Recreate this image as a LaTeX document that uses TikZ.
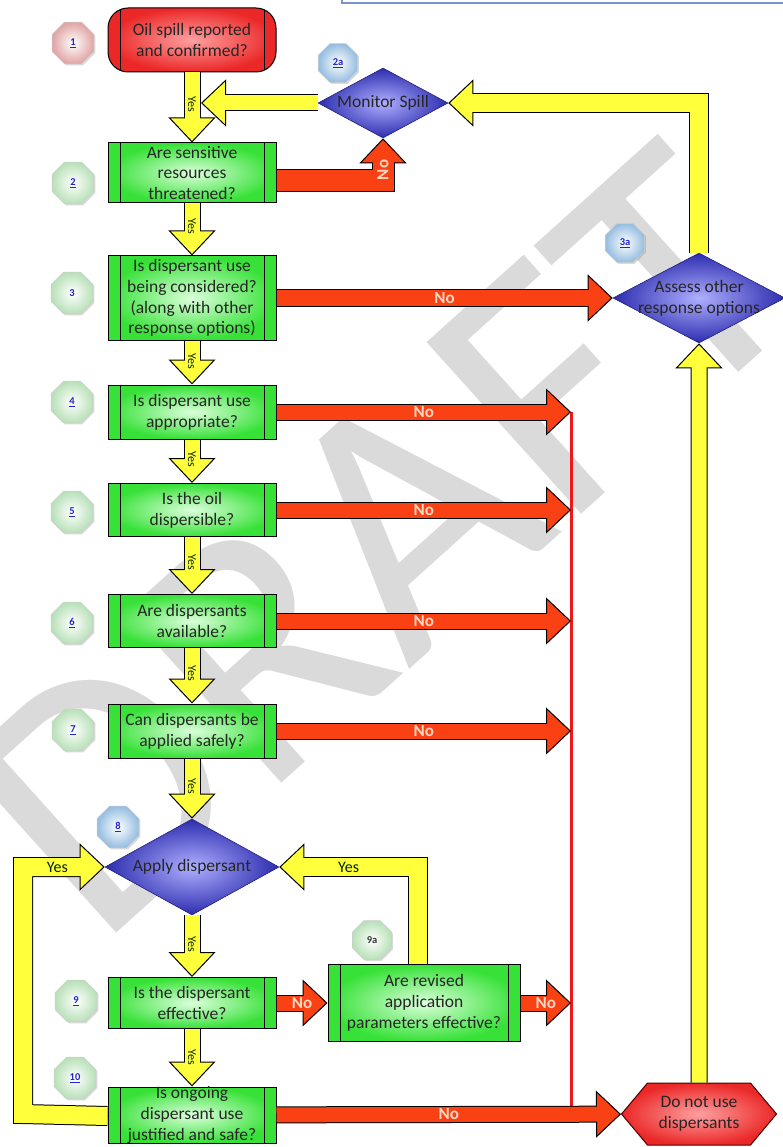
\documentclass[tikz,border=0pt]{standalone}
\usepackage{fontspec}
\setmainfont{Carlito}
\usetikzlibrary{arrows.meta, positioning, shapes.geometric, shapes.symbols, shadows}
\definecolor{qgreen}{RGB}{55,225,55}
\definecolor{qlight}{RGB}{220,255,220}
\definecolor{sred}{RGB}{235,40,40}
\definecolor{slight}{RGB}{255,160,160}
\definecolor{dblue}{RGB}{45,45,175}
\definecolor{dlight}{RGB}{175,175,255}
\definecolor{yfill}{RGB}{255,255,60}
\definecolor{rfill}{RGB}{250,65,20}
\definecolor{rline}{RGB}{240,25,25}
\definecolor{nolab}{RGB}{255,215,195}
\definecolor{numblue}{RGB}{35,35,210}
\definecolor{bdgreen}{RGB}{185,225,185}
\definecolor{bdblue}{RGB}{150,190,225}
\definecolor{bdpink}{RGB}{225,165,165}
\definecolor{wmgray}{RGB}{218,218,218}
\definecolor{frameblue}{RGB}{120,150,205}

\begin{document}
\begin{tikzpicture}[x=1pt, y=-1pt,
  boxtext/.style={font=\fontsize{17.5}{20.8}\selectfont, align=center, text=black!85},
  sidebars/.style={path picture={
      \fill[#1] (path picture bounding box.north west) rectangle ([xshift=12pt]path picture bounding box.south west);
      \fill[#1] ([xshift=-12pt]path picture bounding box.north east) rectangle (path picture bounding box.south east);
      \draw[line width=1pt] ([xshift=12pt]path picture bounding box.north west) -- ([xshift=12pt]path picture bounding box.south west);
      \draw[line width=1pt] ([xshift=-12pt]path picture bounding box.north east) -- ([xshift=-12pt]path picture bounding box.south east);}},
  qbox/.style={boxtext, rectangle, draw=black, line width=1pt, minimum width=168pt, inner sep=1pt,
               inner color=qlight, outer color=qgreen, sidebars=qgreen},
  startbox/.style={boxtext, rectangle, rounded corners=20pt, draw=black, line width=1pt, minimum width=168pt,
               inner sep=1pt, inner color=slight, outer color=sred, sidebars=sred},
  decision/.style={boxtext, diamond, inner sep=-40pt, draw=dblue!70!black, line width=0.6pt,
               inner color=dlight, outer color=dblue},
  stopbox/.style={boxtext, signal, signal to=east and west, signal pointer angle=100, inner sep=1pt,
               draw=black!70!red, line width=1pt, inner color=slight, outer color=sred},
  badge/.style={regular polygon, regular polygon sides=8, minimum size=45pt, inner sep=0pt,
               draw=black!20, line width=0.5pt, inner color=white, outer color=#1,
               font=\fontsize{10.5}{12}\selectfont\bfseries, text=numblue,
               drop shadow={shadow xshift=1.5pt, shadow yshift=-1.5pt, opacity=0.3}},
  fatarrow/.style n args={3}{draw=black, line width=1pt,
               -{Triangle[length=25pt, width=47pt, fill=#1]},
               preaction={draw=black, arrows=-, line width=#3, shorten >=20pt},
               postaction={draw=#1, arrows=-, line width=#2, shorten >=20pt}},
  yarrow/.style={fatarrow={yfill}{15pt}{17pt}},
  yloop/.style={fatarrow={yfill}{18pt}{20pt}},
  rarrow/.style={fatarrow={rfill}{15pt}{17pt}},
  rwide/.style={fatarrow={rfill}{21pt}{23pt}},
  ylab/.style={font=\fontsize{12}{13}\selectfont, text=black!75!green!60!black, rotate=-90, inner sep=0pt},
  yeslab/.style={font=\fontsize{16}{18}\selectfont, text=black!75!green!60!black, inner sep=0pt},
  nlab/.style={font=\fontsize{17}{18}\selectfont\bfseries, text=nolab, inner sep=0pt},
  redline/.style={draw=rline, line width=3pt},
  watermark/.style={font=\fontsize{360}{360}\selectfont, text=wmgray, rotate=42}]
  \useasboundingbox (0,0) rectangle (782,1147);

  % background: watermark and cut-off frame
  \node[watermark] (draft) at (380,540) {DRAFT};
  \draw[frameblue, line width=1.5pt, fill=white] (342,-20) rectangle (790,3);

  % main column
  \node[startbox, minimum height=64pt] (b1) at (192,40) {Oil spill reported\\and confirmed?};
  \node[qbox, minimum height=60pt] (b2) at (192,173) {Are sensitive\\resources\\threatened?};
  \node[qbox, minimum height=84pt] (b3) at (192,298) {Is dispersant use\\being considered?\\(along with other\\response options)};
  \node[qbox, minimum height=54pt] (b4) at (192,412) {Is dispersant use\\appropriate?};
  \node[qbox, minimum height=53pt] (b5) at (192,510) {Is the oil\\dispersible?};
  \node[qbox, minimum height=53pt] (b6) at (192,621) {Are dispersants\\available?};
  \node[qbox, minimum height=54pt] (b7) at (192,731) {Can dispersants be\\applied safely?};
  \node[decision, minimum width=174pt, minimum height=96pt] (apply) at (192,867) {Apply dispersant};
  \node[qbox, minimum height=51pt] (b9) at (192,1003) {Is the dispersant\\effective?};
  \node[qbox, minimum height=56pt, inner ysep=-3pt] (b10) at (192,1115) {Is ongoing\\dispersant use\\justified and safe?};

  % side nodes
  \node[decision, minimum width=130pt, minimum height=70pt] (mon) at (383,103) {Monitor Spill};
  \node[decision, minimum width=172pt, minimum height=90pt] (assess) at (699,298) {Assess other\\response options};
  \node[qbox, minimum width=192pt, minimum height=77pt] (b9a) at (424,1003) {Are revised\\application\\parameters effective?};
  \node[stopbox, minimum width=155pt, minimum height=62pt] (stop) at (699,1114) {Do not use\\dispersants};

  % step badges
  \node[badge=bdpink] (n1) at (73,43) {\underline{1}};
  \node[badge=bdgreen] (n2) at (73,183) {\underline{2}};
  \node[badge=bdblue, minimum size=42pt] (n2a) at (338,63) {\underline{2a}};
  \node[badge=bdgreen] (n3) at (72,293) {3};
  \node[badge=bdblue, minimum size=42pt] (n3a) at (625,243) {\underline{3a}};
  \node[badge=bdgreen] (n4) at (72,402) {\underline{4}};
  \node[badge=bdgreen] (n5) at (72,512) {\underline{5}};
  \node[badge=bdgreen] (n6) at (72,623) {\underline{6}};
  \node[badge=bdgreen] (n7) at (73,730) {\underline{7}};
  \node[badge=bdblue] (n8) at (118,827) {\underline{8}};
  \node[badge=bdgreen] (n9) at (76,1001) {\underline{9}};
  \node[badge=bdgreen, minimum size=42pt, text=black!80] (n9a) at (372,940) {9a};
  \node[badge=bdgreen] (n10) at (75,1078) {\underline{10}};

  % ends of the No arrows on the red collector line
  \coordinate (r4) at (571,412);
  \coordinate (r5) at (571,510);
  \coordinate (r6) at (571,621);
  \coordinate (r7) at (571,731);
  \coordinate (r9) at (571,1003);
  \coordinate (rb) at (571,1107);
  \coordinate (m1) at (201,103);
  \coordinate (lp) at (23,1114);

  \draw[redline] (r4) -- (rb);

  % Yes arrows down the main column
  \draw[yarrow] (b1) -- node[ylab, pos=0.45] {Yes} (b2);
  \draw[yarrow] (b2) -- node[ylab, pos=0.43] {Yes} (b3);
  \draw[yarrow] (b3) -- node[ylab, pos=0.47] {Yes} (b4);
  \draw[yarrow] (b4) -- node[ylab, pos=0.45] {Yes} (b5);
  \draw[yarrow] (b5) -- node[ylab, pos=0.45] {Yes} (b6);
  \draw[yarrow] (b6) -- node[ylab, pos=0.45] {Yes} (b7);
  \draw[yarrow] (b7) -- node[ylab, pos=0.46] {Yes} (apply);
  \draw[yarrow] (apply) -- node[ylab, pos=0.47] {Yes} (b9);
  \draw[yarrow] (b9) -- node[ylab, pos=0.49] {Yes} (b10);

  % loops back
  \draw[yarrow] (mon) -- (m1);
  \draw[yloop] (assess.north) |- (mon.east);
  \draw[yloop] ([xshift=-6pt]b9a.north) |- node[yeslab, pos=0.75] {Yes} (apply.east);
  \draw[yloop] ([yshift=-1pt]b10.west) -- (lp) |- node[yeslab, pos=0.71] {Yes} (apply.west);
  \draw[yarrow] (stop) -- (assess);

  % No arrows
  \draw[rwide] ([yshift=-8pt]b2.east) -| node[nlab, rotate=90, pos=0.63] {No} (mon.south);
  \draw[rarrow] (b3) -- node[nlab] {No} (assess);
  \draw[rarrow] (b4) -- node[nlab] {No} (r4);
  \draw[rarrow] (b5) -- node[nlab] {No} (r5);
  \draw[rarrow] (b6) -- node[nlab] {No} (r6);
  \draw[rarrow] (b7) -- node[nlab] {No} (r7);
  \draw[rarrow] (b9) -- node[nlab] {No} (b9a);
  \draw[rarrow] (b9a) -- node[nlab] {No} (r9);
  \draw[rarrow] (b10) -- node[nlab] {No} (stop);
\end{tikzpicture}
\end{document}
